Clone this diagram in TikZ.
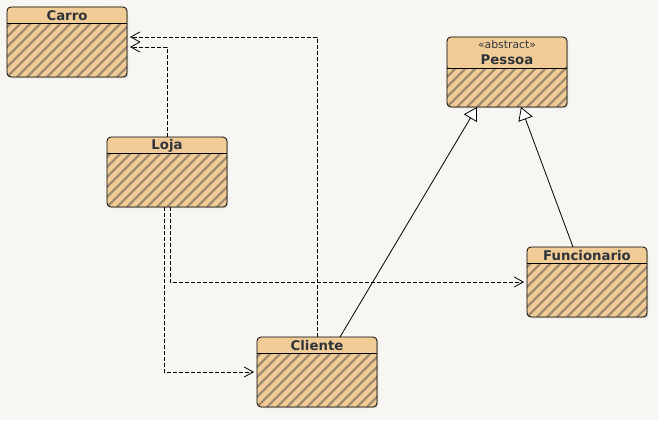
\documentclass[tikz,border=0pt]{standalone}
\usepackage{fontspec}
\setmainfont{DejaVu Sans}
\usetikzlibrary{arrows.meta,shadows}
\definecolor{canvas}{RGB}{247,246,242}
\definecolor{headfill}{RGB}{241,204,150}
\definecolor{stripecol}{RGB}{160,140,112}
\definecolor{inkcol}{RGB}{46,52,58}
\tikzset{
  head height/.store in=\headh, head height=16pt,
  cls/.style={draw=black, line width=0.8pt, rounded corners=4pt, fill=headfill,
    minimum width=120pt, minimum height=70pt, inner sep=0pt, outer sep=0pt,
    drop shadow={shadow xshift=1.2pt, shadow yshift=-1.2pt, opacity=0.35},
    path picture={
      \foreach \k in {0,...,22}
        \draw[stripecol, line width=2.2pt]
          ([xshift=\k*10pt-90pt]path picture bounding box.south west) -- ++(100pt,100pt);
      \fill[headfill] (path picture bounding box.north west)
        rectangle ([yshift=-\headh]path picture bounding box.north east);
      \draw[black, line width=0.8pt]
        ([yshift=-\headh]path picture bounding box.north west)
        -- ([yshift=-\headh]path picture bounding box.north east);
    }},
  title/.style={font=\bfseries\fontsize{13.3}{15}\selectfont, text=inkcol, inner sep=0pt},
  stereo/.style={font=\fontsize{10.8}{12}\selectfont, text=inkcol, inner sep=0pt},
  dep/.style={draw=black, line width=0.8pt, dash pattern=on 4pt off 2pt,
    -{Straight Barb[length=9pt,width=10pt,line width=0.8pt]}},
  gen/.style={draw=black, line width=0.8pt,
    -{Triangle[open,length=13pt,width=15pt,fill=white,line width=0.8pt]}},
}
\begin{document}
\begin{tikzpicture}[x=1pt,y=-1pt]
  \fill[canvas] (0,0) rectangle (658,420);
  \useasboundingbox (0,0) rectangle (658,420);

  % classes
  \node[cls] (carro) at (67,42) {};
  \node[title] (carroT) at ([yshift=-8.5pt]carro.north) {Carro};

  \node[cls, head height=31pt] (pessoa) at (507,72) {};
  \node[stereo] (pessoaS) at ([yshift=-7.5pt]pessoa.north) {«abstract»};
  \node[title] (pessoaT) at ([yshift=-22.5pt]pessoa.north) {Pessoa};

  \node[cls] (loja) at (167,172) {};
  \node[title] (lojaT) at ([yshift=-8.5pt]loja.north) {Loja};

  \node[cls] (cliente) at (317,372) {};
  \node[title] (clienteT) at ([yshift=-8.5pt]cliente.north) {Cliente};

  \node[cls] (func) at (587,282) {};
  \node[title] (funcT) at ([yshift=-8.5pt]func.north) {Funcionario};

  % dependencies
  \draw[dep] (cliente.north) |- ([shift={(3pt,5pt)}]carro.east);
  \draw[dep] (loja.north) |- ([shift={(3pt,-5pt)}]carro.east);
  \draw[dep] ([xshift=-3pt]loja.south) |- ([xshift=-3pt]cliente.west);
  \draw[dep] ([xshift=3pt]loja.south) |- ([xshift=-3pt]func.west);

  % generalizations
  \draw[gen] ([xshift=23pt]cliente.north) -- ([xshift=-30pt]pessoa.south);
  \draw[gen] ([xshift=-14pt]func.north) -- ([xshift=14pt]pessoa.south);
\end{tikzpicture}
\end{document}
